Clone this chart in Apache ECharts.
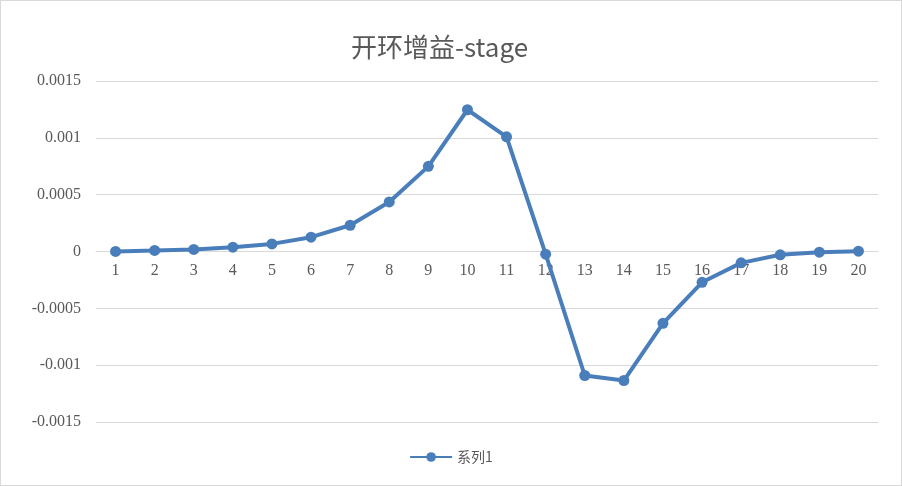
<!DOCTYPE html>
<html><head><meta charset="utf-8">
<script src="https://cdn.jsdelivr.net/npm/echarts@6/dist/echarts.min.js"></script>
<style>
html,body{margin:0;padding:0;background:#fff;}
#c{width:900px;height:484px;border:1px solid #d9d9d9;}
</style></head>
<body><div id="c"></div>
<script>
const categories = ['1','2','3','4','5','6','7','8','9','10','11','12','13','14','15','16','17','18','19','20'];
const series1 = [0.000001, 0.000009, 0.000018, 0.000038, 0.000067, 0.000126, 0.000231, 0.000436, 0.000749, 0.001247, 0.001009, -0.000024, -0.001091, -0.001135, -0.000632, -0.000271, -0.0001, -0.000029, -0.000006, 0.000003];
const seriesName = '系列1';
const titleText = '开环增益-stage';

const gridTop = 80, gridBottom = 63, chartH = 484;
const chart = echarts.init(document.getElementById('c'));
chart.setOption({
  animation: false,
  title: {
    text: titleText, left: 345, top: 28,
    textStyle: { fontFamily: 'Noto Sans CJK SC', fontSize: 26, fontWeight: 'normal', color: '#595959' }
  },
  legend: {
    data: [seriesName], bottom: 16, left: 'center',
    itemWidth: 42, itemHeight: 12,
    textStyle: { fontFamily: 'Noto Sans CJK SC', fontSize: 14, color: '#595959' }
  },
  grid: { left: 95, right: 23, top: gridTop, bottom: gridBottom, containLabel: false },
  xAxis: {
    type: 'category', data: categories, boundaryGap: true,
    position: 'bottom',
    offset: -(chartH - gridTop - gridBottom) / 2,
    axisLine: { show: true, onZero: false, lineStyle: { color: '#d9d9d9', width: 1 } },
    axisTick: { show: false },
    axisLabel: { fontFamily: 'Liberation Serif', fontSize: 16, color: '#595959', margin: 11 },
    splitLine: { show: false }
  },
  yAxis: {
    type: 'value', min: -0.0015, max: 0.0015, interval: 0.0005,
    axisLine: { show: false }, axisTick: { show: false },
    axisLabel: { fontFamily: 'Liberation Serif', fontSize: 16, color: '#595959', margin: 15 },
    splitLine: { lineStyle: { color: '#d9d9d9', width: 1 } }
  },
  series: [{
    name: seriesName, type: 'line', data: series1,
    symbol: 'circle', symbolSize: 11,
    lineStyle: { color: '#4a7ebb', width: 4 },
    itemStyle: { color: '#4a7ebb' }
  }]
});
</script></body></html>
